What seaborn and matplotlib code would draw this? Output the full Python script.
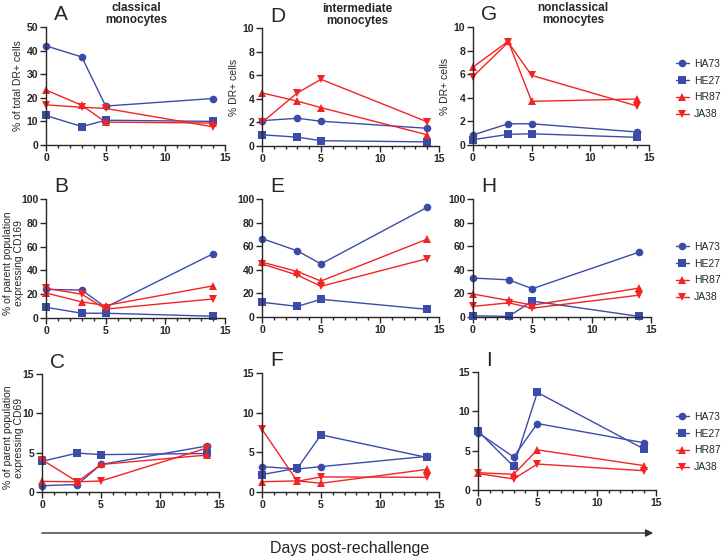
import pandas as pd
import seaborn as sns
import matplotlib.pyplot as plt
from matplotlib.ticker import MultipleLocator

# days after rechallenge and donors
days = [0, 3, 5, 14]
donors = ['HA73', 'HE27', 'HR87', 'JA38']

# HLA-DR+ share (%), rows in donor order
panel_a = [[42, 37.3, 16.5, 19.7], [12.5, 7.8, 10.5, 10], [23.3, 16.8, 9.7, 9.3], [17, 16, 15.5, 7.7]]
panel_d = [[2.15, 2.35, 2.1, 1.5], [0.95, 0.75, 0.45, 0.35], [4.5, 3.8, 3.25, 0.95], [2.0, 4.5, 5.65, 2.05]]
panel_g = [[0.85, 1.8, 1.8, 1.1], [0.45, 0.9, 0.95, 0.65], [6.6, 8.8, 3.7, 3.9], [5.8, 8.7, 5.9, 3.3]]
# CD169
panel_b = [[24, 23.5, 9, 54], [9, 4, 4, 1.5], [21, 13.5, 10.5, 27], [25, 20, 7.5, 16]]
panel_e = [[66.5, 56, 45, 93], [12.5, 9, 15, 6.5], [46.5, 38.5, 30.5, 66], [45, 35.5, 26, 49.5]]
panel_h = [[33, 31.5, 24, 55], [1, 0.5, 13.5, 0.5], [19.5, 14, 10, 24.5], [9, 12, 7.5, 18.5]]
# CD69
panel_c = [[0.8, 0.95, 3.5, 5.85], [3.9, 4.95, 4.75, 4.9], [1.35, 1.3, 3.5, 4.7], [4.1, 1.3, 1.4, 5.6]]
panel_f = [[3.2, 2.9, 3.2, 4.5], [2.2, 3.0, 7.2, 4.35], [1.3, 1.4, 1.1, 2.85], [7.9, 1.35, 1.9, 1.85]]
panel_i = [[7.3, 4.2, 8.45, 6.0], [7.5, 3.0, 12.4, 5.2], [2.2, 2.0, 5.1, 3.1], [2.1, 1.4, 3.3, 2.45]]

BLUE = '#3b4ca8'
RED = '#f22424'
palette = {'HA73': BLUE, 'HE27': BLUE, 'HR87': RED, 'JA38': RED}
markers = {'HA73': 'o', 'HE27': 's', 'HR87': '^', 'JA38': 'v'}

sns.set_style('ticks')
plt.rcParams['font.family'] = ['Liberation Sans', 'DejaVu Sans']
plt.rcParams['axes.linewidth'] = 1.0

W, H = 723, 556
fig = plt.figure(figsize=(W / 100, H / 100), dpi=100)


def make_ax(left, right, top, bottom):
    return fig.add_axes([left / W, 1 - bottom / H, (right - left) / W, (bottom - top) / H])


def to_long(panel):
    rows = []
    for donor, vals in zip(donors, panel):
        for d, v in zip(days, vals):
            rows.append({'day': d, 'value': v, 'donor': donor})
    return pd.DataFrame(rows)


panels = [
    # data, box (l, r, t, b), ymax, ystep, letter, ylabel, title, title x, legend centre y
    (panel_a, (46, 225, 27, 145), 50, 10, 'A', '% of total DR+ cells', 'classical\nmonocytes', 136, None),
    (panel_d, (262, 439, 28, 146), 10, 2, 'D', '% DR+ cells', 'intermediate\nmonocytes', 357, None),
    (panel_g, (473, 649, 27, 145), 10, 2, 'G', '% DR+ cells', 'nonclassical\nmonocytes', 573, 89),
    (panel_b, (46, 225, 199, 318), 100, 20, 'B', '% of parent population\nexpressing CD169', None, 0, None),
    (panel_e, (262, 439, 199, 317), 100, 20, 'E', None, None, 0, None),
    (panel_h, (473, 651, 199, 317), 100, 20, 'H', None, None, 0, 272),
    (panel_c, (42, 219, 374, 492), 15, 5, 'C', '% of parent population\nexpressing CD69', None, 0, None),
    (panel_f, (262, 439, 373, 492), 15, 5, 'F', None, None, 0, None),
    (panel_i, (478, 656, 372, 490), 15, 5, 'I', None, None, 0, 442),
]

for data, box, ymax, ystep, letter, ylabel, title, tx, leg_y in panels:
    ax = make_ax(*box)
    df = to_long(data)
    sns.lineplot(data=df, x='day', y='value', hue='donor', style='donor',
                 palette=palette, markers=markers, dashes=False, markersize=5.5,
                 markeredgewidth=0, linewidth=1, legend=leg_y is not None, ax=ax, clip_on=False)
    ax.set_xlim(0, 15)
    ax.set_ylim(0, ymax)
    ax.xaxis.set_major_locator(MultipleLocator(5))
    ax.xaxis.set_minor_locator(MultipleLocator(1))
    ax.yaxis.set_major_locator(MultipleLocator(ystep))
    ax.tick_params(axis='both', which='major', length=4, width=1, labelsize=7.5, pad=1.5)
    ax.tick_params(axis='x', which='minor', length=2.5, width=1)
    for lab in ax.get_xticklabels() + ax.get_yticklabels():
        lab.set_fontweight('bold')
    sns.despine(ax=ax)
    ax.set_xlabel('')
    l, r, t, b = box
    if ylabel and '\n' in ylabel:
        ax.set_ylabel(ylabel, fontsize=7.5, linespacing=1.1)
        ax.yaxis.set_label_coords((24 - l) / (r - l), 0.46)
    else:
        ax.set_ylabel(ylabel if ylabel else '', fontsize=7.5, labelpad=3)
    fig.text((l + 8) / W, 1 - (t - 12) / H, letter, fontsize=15, va='center', ha='left')
    if title:
        fig.text(tx / W, 1 - (t - 13) / H, title, fontsize=8.5,
                 fontweight='bold', ha='center', va='center', linespacing=1.1)
    if leg_y is not None:
        sns.move_legend(ax, 'center left', bbox_to_anchor=(672 / W, 1 - leg_y / H),
                        bbox_transform=fig.transFigure, frameon=False,
                        title=None, fontsize=7.5, handlelength=1.2, handletextpad=0.5,
                        labelspacing=0.65, borderaxespad=0)

# timeline arrow and shared x label
fig.patches.append(plt.matplotlib.patches.FancyArrowPatch(
    (39 / W, 1 - 533 / H), (656 / W, 1 - 533 / H), transform=fig.transFigure,
    arrowstyle='-|>', mutation_scale=11, color='#333333', linewidth=1))
fig.text(350 / W, 1 - 548 / H, 'Days post-rechallenge', fontsize=11.5, ha='center', va='center')

fig.savefig('out.png', dpi=100)
